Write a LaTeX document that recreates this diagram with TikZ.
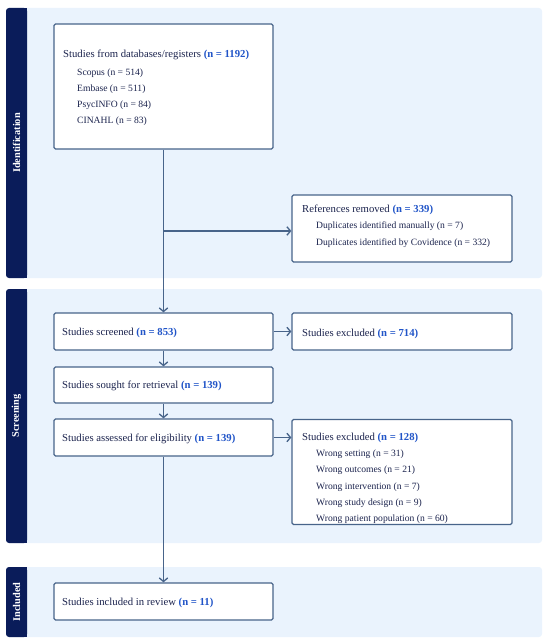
\documentclass[tikz,border=0pt]{standalone}
\usepackage{fontspec}
\setmainfont{Liberation Serif}
\usetikzlibrary{arrows.meta}
\definecolor{navy}{RGB}{10,28,90}
\definecolor{panelbg}{RGB}{234,243,253}
\definecolor{boxline}{RGB}{72,100,138}
\definecolor{txt}{RGB}{28,36,78}
\definecolor{nblue}{RGB}{32,84,200}
\newcommand{\nval}[1]{\textbf{\color{nblue}(#1)}}
\tikzset{
  panel/.style={fill=panelbg, rounded corners=3pt},
  sidebar/.style={fill=navy, rounded corners=3pt},
  sidelabel/.style={text=white, font=\fontsize{10.3}{11}\selectfont\bfseries, rotate=90},
  box/.style={draw=boxline, line width=1.35pt, fill=white, rounded corners=1.5pt,
    inner sep=0pt, minimum width=219pt, minimum height=37pt},
  main/.style={anchor=base west, inner sep=0pt, text=txt, font=\fontsize{10.7}{12}\selectfont},
  sub/.style={anchor=base west, inner sep=0pt, text=txt, font=\fontsize{9.6}{11}\selectfont},
  arr/.style={draw=boxline, line width=1.35pt, -{Straight Barb[length=3.5pt,width=8.5pt,line width=1.35pt]}}
}
\begin{document}
\begin{tikzpicture}[x=1pt,y=-1pt]
\useasboundingbox (0,0) rectangle (550,644);
% panels
\fill[panel] (6,8) rectangle (542,278);
\fill[panel] (6,289) rectangle (542,543);
\fill[panel] (6,567) rectangle (542,637);
% sidebars
\fill[sidebar] (6,8) rectangle (27,278);
\fill[sidebar] (6,289) rectangle (27,543);
\fill[sidebar] (6,567) rectangle (27,637);
\fill[navy] (22,8) rectangle (27,278);
\fill[navy] (22,289) rectangle (27,543);
\fill[navy] (22,567) rectangle (27,637);
\node[sidelabel] (lid) at (16.5,143) {Identification};
\node[sidelabel] (lsc) at (16.5,416) {Screening};
\node[sidelabel] (lin) at (16.5,602) {Included};
% boxes
\node[box, minimum height=125pt] (id1) at (163.5,86.5) {};
\node[box, minimum width=220pt, minimum height=67pt] (refs) at (402,228.5) {};
\node[box] (scr) at (163.5,331.5) {};
\node[box, minimum width=220pt] (ex1) at (402,331.5) {};
\node[box, minimum height=36pt] (sou) at (163.5,385) {};
\node[box] (ass) at (163.5,437.5) {};
\node[box, minimum width=220pt, minimum height=105pt] (ex2) at (402,472) {};
\node[box] (inc) at (163.5,601.5) {};
% texts
\node[main] (t1) at (63,57.5) {Studies from databases/registers \nval{n = 1192}};
\node[sub] (t1a) at (77,75.5) {Scopus (n = 514)};
\node[sub] (t1b) at (77,91.5) {Embase (n = 511)};
\node[sub] (t1c) at (77,107.5) {PsycINFO (n = 84)};
\node[sub] (t1d) at (77,123.5) {CINAHL (n = 83)};
\node[main] (t2) at (302,212.5) {References removed \nval{n = 339}};
\node[sub] (t2a) at (316,228.5) {Duplicates identified manually (n = 7)};
\node[sub] (t2b) at (316,245) {Duplicates identified by Covidence (n = 332)};
\node[main] (t3) at (62,335.5) {Studies screened \nval{n = 853}};
\node[main] (t4) at (302,336) {Studies excluded \nval{n = 714}};
\node[main] (t5) at (62,388.5) {Studies sought for retrieval \nval{n = 139}};
\node[main] (t6) at (62,441.5) {Studies assessed for eligibility \nval{n = 139}};
\node[main] (t7) at (302,440) {Studies excluded \nval{n = 128}};
\node[sub] (t7a) at (316,456.5) {Wrong setting (n = 31)};
\node[sub] (t7b) at (316,472.5) {Wrong outcomes (n = 21)};
\node[sub] (t7c) at (316,489) {Wrong intervention (n = 7)};
\node[sub] (t7d) at (316,505) {Wrong study design (n = 9)};
\node[sub] (t7e) at (316,521.5) {Wrong patient population (n = 60)};
\node[main] (t8) at (62,605) {Studies included in review \nval{n = 11}};
% connectors
\coordinate (br) at (163.5,231);
\draw[arr] (id1.south) -- (scr.north);
\draw[arr] (br) -- (br -| refs.west);
\draw[arr] (scr.east) -- (ex1.west);
\draw[arr] (scr.south) -- (sou.north);
\draw[arr] (sou.south) -- (ass.north);
\draw[arr] (ass.east) -- (ass.east -| ex2.west);
\draw[arr] (ass.south) -- (inc.north);
\end{tikzpicture}
\end{document}
